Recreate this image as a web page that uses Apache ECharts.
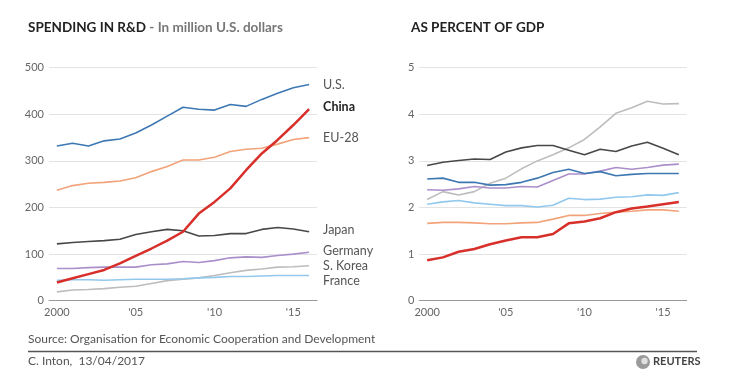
<!DOCTYPE html>
<html><head><meta charset="utf-8">
<script src="https://cdn.jsdelivr.net/npm/echarts@6/dist/echarts.min.js"></script>
<style>html,body{margin:0;padding:0;background:#fff}#c{width:732px;height:385px}</style>
</head><body><div id="c"></div>
<script>
const years = [2000,2001,2002,2003,2004,2005,2006,2007,2008,2009,2010,2011,2012,2013,2014,2015,2016];
const spendTicks = [0,100,200,300,400,500];
const gdpTicks = [0,1,2,3,4,5];

// Spending in R&D, million U.S. dollars (as labelled)
const spendUS      = [332,338,332,343,347,360,377,396,415,411,409,421,417,432,445,457,464];
const spendChina   = [39,48,57,66,80,96,112,129,148,187,212,241,280,316,345,377,411];
const spendEU28    = [237,247,252,254,257,264,277,288,302,302,308,320,325,327,336,346,350];
const spendJapan   = [122,125,127,129,132,142,148,153,150,139,140,144,144,153,157,154,148];
const spendGermany = [69,69,71,72,72,72,77,79,84,82,86,92,94,93,97,100,104];
const spendKorea   = [19,23,24,26,29,31,37,43,46,49,54,60,65,68,72,73,75];
const spendFrance  = [44,45,45,44,45,46,46,46,47,49,50,52,52,53,54,54,54];

// As percent of GDP
const gdpUS      = [2.61,2.63,2.54,2.54,2.48,2.49,2.54,2.63,2.75,2.82,2.73,2.77,2.68,2.71,2.73,2.73,2.73];
const gdpChina   = [0.87,0.93,1.05,1.11,1.21,1.29,1.36,1.36,1.43,1.66,1.70,1.77,1.90,1.98,2.02,2.07,2.12];
const gdpEU28    = [1.66,1.68,1.68,1.67,1.65,1.65,1.67,1.68,1.75,1.83,1.83,1.87,1.90,1.92,1.95,1.95,1.92];
const gdpJapan   = [2.90,2.97,3.01,3.04,3.03,3.19,3.28,3.33,3.33,3.23,3.13,3.25,3.20,3.32,3.40,3.27,3.13];
const gdpGermany = [2.38,2.37,2.40,2.45,2.42,2.42,2.45,2.44,2.58,2.72,2.72,2.78,2.86,2.82,2.86,2.91,2.93];
const gdpKorea   = [2.17,2.34,2.27,2.34,2.52,2.63,2.83,3.00,3.13,3.28,3.46,3.73,4.02,4.14,4.28,4.22,4.23];
const gdpFrance  = [2.07,2.12,2.15,2.10,2.07,2.04,2.04,2.01,2.05,2.20,2.17,2.18,2.22,2.23,2.27,2.26,2.32];

const countries = ['U.S.','China','EU-28','Japan','Germany','S. Korea','France'];
const colors = {'U.S.':'#3d78b3','China':'#d7302b','EU-28':'#f2a37a','Japan':'#484848','Germany':'#ab8fcb','S. Korea':'#bdbdbd','France':'#92c8ee'};
const spendData = {'U.S.':spendUS,'China':spendChina,'EU-28':spendEU28,'Japan':spendJapan,'Germany':spendGermany,'S. Korea':spendKorea,'France':spendFrance};
const gdpData = {'U.S.':gdpUS,'China':gdpChina,'EU-28':gdpEU28,'Japan':gdpJapan,'Germany':gdpGermany,'S. Korea':gdpKorea,'France':gdpFrance};
const labelOffsetY = {'U.S.':0,'China':-2,'EU-28':0,'Japan':-1.5,'Germany':-1,'S. Korea':0,'France':5.5};

const FONT = 'Lato';
const drawOrder = ['S. Korea','France','Germany','Japan','EU-28','U.S.','China'];

function xAxis(gi){
  return {type:'category',gridIndex:gi,data:years,boundaryGap:true,
    axisLine:{show:true,lineStyle:{color:'#9a9a9a',width:1}},
    axisTick:{show:false},
    axisLabel:{interval:(i)=>i%5===0,color:'#666',fontFamily:FONT,fontSize:11,margin:6,
      formatter:(v)=>{v=+v;return v===2000?'2000':"'"+String(v).slice(2);}}};
}
function yAxis(gi,max,interval){
  return {type:'value',gridIndex:gi,min:0,max:max,interval:interval,
    axisLine:{show:false},axisTick:{show:false},
    splitLine:{lineStyle:{color:'#e3e3e3',width:1}},
    axisLabel:{color:'#666',fontFamily:FONT,fontSize:11,margin:5}};
}

const series = [];
drawOrder.forEach(name=>{
  series.push({type:'line',name:name,xAxisIndex:0,yAxisIndex:0,data:spendData[name],
    symbol:'none',smooth:false,animation:false,
    lineStyle:{color:colors[name],width:name==='China'?2.5:1.6},
    endLabel:{show:true,formatter:name,offset:[6,labelOffsetY[name]],color:name==='China'?'#222':'#555',
      fontFamily:FONT,fontSize:12.5,fontWeight:name==='China'?'bold':'normal'}});
});
drawOrder.forEach(name=>{
  series.push({type:'line',name:name+'_gdp',xAxisIndex:1,yAxisIndex:1,data:gdpData[name],
    symbol:'none',smooth:false,animation:false,
    lineStyle:{color:colors[name],width:name==='China'?2.5:1.6}});
});

const chart = echarts.init(document.getElementById('c'),null,{renderer:'canvas'});
chart.setOption({
  animation:false,
  backgroundColor:'#fff',
  title:[
    {text:'{b|SPENDING IN R&D}{n| - In million U.S. dollars}',left:23,top:16,
      textStyle:{rich:{b:{fontFamily:FONT,fontWeight:'bold',fontSize:13.5,color:'#222'},
                       n:{fontFamily:FONT,fontSize:13.5,color:'#777'}}}},
    {text:'AS PERCENT OF GDP',left:406,top:16,
      textStyle:{fontFamily:FONT,fontWeight:'bold',fontSize:13.5,color:'#222'}}
  ],
  grid:[
    {left:49,width:268,top:67.7,height:233,containLabel:false},
    {left:419.3,width:267.4,top:67.7,height:233,containLabel:false}
  ],
  xAxis:[xAxis(0),xAxis(1)],
  yAxis:[yAxis(0,500,100),yAxis(1,5,1)],
  series:series,
  graphic:[
    {type:'text',left:28,top:333,style:{text:'Source: Organisation for Economic Cooperation and Development',fill:'#555',font:'12px '+FONT}},
    {type:'line',shape:{x1:28,y1:351.5,x2:697,y2:351.5},style:{stroke:'#555',lineWidth:1.3}},
    {type:'text',left:28,top:355,style:{text:'C. Inton,  13/04/2017',fill:'#555',font:'12px '+FONT}},
    {type:'circle',shape:{cx:643,cy:362,r:7},style:{fill:'#9a9a9a'}},
    {type:'circle',shape:{cx:644.5,cy:361,r:3.2},style:{fill:'#e0e0e0'}},
    {type:'text',left:653,top:356,style:{text:'REUTERS',fill:'#444',font:'bold 11px '+FONT}}
  ]
});
</script></body></html>
